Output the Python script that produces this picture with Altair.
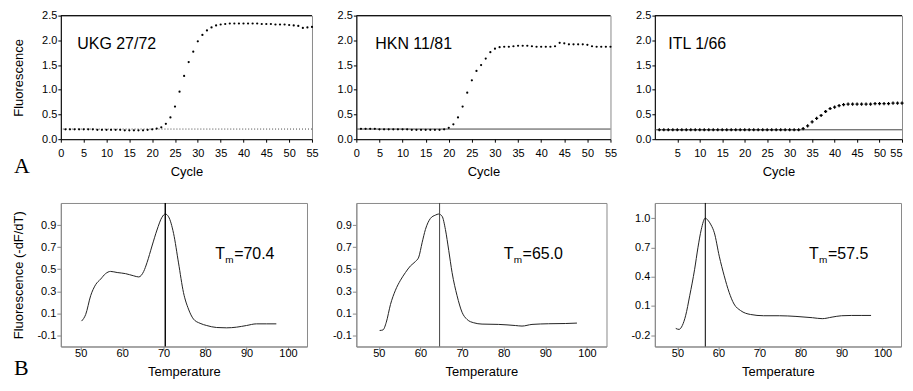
import altair as alt
import pandas as pd

FONT = "Liberation Sans"
SERIF = "Liberation Serif"

# ---------------- amplification data (top row) ----------------
cycles = list(range(1, 56))
ukg_fluor = [0.20, 0.20, 0.20, 0.20, 0.20, 0.20, 0.20, 0.19, 0.19, 0.19,
             0.19, 0.19, 0.19, 0.18, 0.18, 0.18, 0.18, 0.18, 0.19, 0.20,
             0.215, 0.24, 0.31, 0.44, 0.66, 0.96, 1.28, 1.56, 1.77, 1.98,
             2.11, 2.20, 2.26, 2.30, 2.32, 2.33, 2.34, 2.34, 2.34, 2.34,
             2.34, 2.34, 2.34, 2.33, 2.33, 2.33, 2.32, 2.32, 2.32, 2.31,
             2.30, 2.29, 2.25, 2.26, 2.27]
hkn_fluor = [0.21, 0.21, 0.21, 0.21, 0.20, 0.20, 0.20, 0.20, 0.20, 0.20,
             0.20, 0.19, 0.19, 0.19, 0.19, 0.19, 0.19, 0.19, 0.20, 0.23,
             0.30, 0.44, 0.66, 0.94, 1.19, 1.38, 1.50, 1.63, 1.76, 1.83,
             1.86, 1.87, 1.87, 1.88, 1.89, 1.89, 1.89, 1.88, 1.87, 1.87,
             1.87, 1.87, 1.88, 1.95, 1.94, 1.92, 1.92, 1.92, 1.92, 1.91,
             1.88, 1.87, 1.87, 1.87, 1.87]
itl_fluor = [0.19] * 32 + [0.215, 0.27, 0.35, 0.42, 0.48, 0.56, 0.62, 0.65,
                           0.68, 0.70, 0.71, 0.71, 0.71, 0.71, 0.71, 0.71,
                           0.72, 0.72, 0.72, 0.72, 0.73, 0.73, 0.73]
amp_names = ["UKG 27/72", "HKN 11/81", "ITL 1/66"]
amp_thresholds = [0.205, 0.205, 0.19]
amp_label_x = [3.6, 4.1, 3.0]
amp_label_y = [1.83, 1.83, 1.83]
amp_xticks_full = [0, 5, 10, 15, 20, 25, 30, 35, 40, 45, 50, 55]
amp_xticks_nozero = [5, 10, 15, 20, 25, 30, 35, 40, 45, 50, 55]
amp_yticks = [0.0, 0.5, 1.0, 1.5, 2.0, 2.5]

# ---------------- melting data (bottom row) ----------------
ukg_temp = [50.2, 51.2, 52.4, 53.6, 54.8, 56.0, 57.2, 58.8, 60.8, 62.8, 64.0,
            65.2, 66.0, 67.2, 68.4, 69.6, 70.4, 71.2, 72.4, 73.6, 74.8, 76.0,
            77.2, 78.8, 80.4, 82.8, 85.2, 87.6, 90.0, 92.4, 94.8, 97.2]
ukg_deriv = [0.03, 0.09, 0.26, 0.36, 0.41, 0.46, 0.48, 0.47, 0.46, 0.44, 0.43,
             0.48, 0.56, 0.71, 0.855, 0.97, 1.0, 0.975, 0.825, 0.557, 0.288,
             0.139, 0.049, 0.01, -0.01, -0.028, -0.031, -0.025, -0.01, 0.005,
             0.005, 0.005]
hkn_temp = [50.2, 51.0, 51.8, 52.8, 54.0, 55.2, 56.4, 57.6, 58.8, 59.6, 60.4,
            61.2, 62.4, 63.6, 64.4, 65.2, 66.0, 66.8, 67.6, 68.8, 70.0, 71.2,
            72.8, 74.8, 78.8, 82.8, 84.4, 86.8, 90.8, 94.8, 97.6]
hkn_deriv = [-0.055, -0.05, 0.02, 0.18, 0.31, 0.40, 0.47, 0.53, 0.57, 0.61,
             0.74, 0.86, 0.96, 0.99, 1.0, 0.98, 0.86, 0.67, 0.47, 0.26, 0.11,
             0.045, 0.015, 0.003, 0.0, -0.01, -0.015, 0.0, 0.006, 0.008, 0.012]
itl_temp = [49.6, 50.4, 51.2, 52.0, 53.0, 54.2, 55.0, 55.8, 56.8, 57.4, 58.2,
            59.0, 60.2, 61.4, 62.6, 63.8, 65.4, 67.8, 71.0, 74.9, 78.9, 82.9,
            85.3, 87.7, 90.0, 92.4, 94.8, 97.2]
itl_deriv = [-0.13, -0.14, -0.10, 0.0, 0.205, 0.476, 0.696, 0.88, 1.0, 0.98,
             0.93, 0.85, 0.61, 0.41, 0.24, 0.12, 0.053, 0.013, 0.0, 0.0, -0.007,
             -0.02, -0.03, -0.014, 0.0, 0.003, 0.003, 0.003]
tm_line_pos = [70.4, 64.6, 56.8]
tm_texts = ["=70.4", "=65.0", "=57.5"]
tm_text_x = [82.45, 80.0, 82.1]
tm_text_y = [0.589, 0.589, 0.578]
melt_xdomains = [[45.2, 104.6], [44.6, 104.7], [44.5, 104.5]]
melt_ydomains = [[-0.2, 1.1], [-0.2, 1.1], [-0.315, 1.155]]
melt_yticks = [[-0.1, 0.1, 0.3, 0.5, 0.7, 0.9], [-0.1, 0.1, 0.3, 0.5, 0.7, 0.9],
               [-0.2, 0.1, 0.4, 0.7, 1.0]]
melt_xticks = [50, 60, 70, 80, 90, 100]

GRAY = "#8a8a8a"
LABEL_EXPR = "datum.value < 0 ? '-' + format(-datum.value, '.1f') : format(datum.value, '.1f')"


def amp_panel(vals, idx, width, ytitle, xticks, dot_shape, dot_size, dash, letter, flush):
    df = pd.DataFrame({"Cycle": cycles, "F": vals})
    xenc = alt.X("Cycle:Q", scale=alt.Scale(domain=[0, 55], nice=False, zero=False),
                 axis=alt.Axis(values=xticks, tickCount=60, title="Cycle", domainColor="black",
                               tickColor="black", tickSize=3, labelPadding=5,
                               titlePadding=7, labelFlush=flush, labelOverlap=False))
    yenc = alt.Y("F:Q", scale=alt.Scale(domain=[0, 2.5], nice=False),
                 axis=alt.Axis(values=amp_yticks, tickCount=60, format=".1f", title=ytitle,
                               domainColor="black", tickColor="black", tickSize=3,
                               labelPadding=1, titlePadding=16, labelOverlap=False))
    pts = alt.Chart(df).mark_point(filled=True, shape=dot_shape, size=dot_size,
                                   color="black", opacity=1).encode(x=xenc, y=yenc)
    thr_df = pd.DataFrame({"F": [amp_thresholds[idx]]})
    thr_kw = dict(color="#444", strokeWidth=1)
    if dash:
        thr_kw["strokeDash"] = [1, 2]
    thr = alt.Chart(thr_df).mark_rule(**thr_kw).encode(y="F:Q")
    top_df = pd.DataFrame({"F": [2.5]})
    top = alt.Chart(top_df).mark_rule(color="black", strokeWidth=1).encode(y="F:Q")
    lab_df = pd.DataFrame({"Cycle": [amp_label_x[idx]], "F": [amp_label_y[idx]],
                           "t": [amp_names[idx]]})
    lab = alt.Chart(lab_df).mark_text(align="left", baseline="alphabetic", fontSize=16,
                                      font=FONT, color="black").encode(
        x="Cycle:Q", y="F:Q", text="t:N")
    layers = [thr, top, pts, lab]
    if letter:
        let_df = pd.DataFrame({"t": [letter]})
        let = alt.Chart(let_df).mark_text(align="left", baseline="alphabetic", fontSize=22,
                                          font=SERIF, color="black").encode(
            x=alt.value(-47), y=alt.value(158), text="t:N")
        layers.append(let)
    return alt.layer(*layers).properties(width=width, height=124)


def melt_panel(temps, vals, idx, width, ytitle, letter):
    df = pd.DataFrame({"T": temps, "D": vals})
    xenc = alt.X("T:Q", scale=alt.Scale(domain=melt_xdomains[idx], nice=False, zero=False),
                 axis=alt.Axis(values=melt_xticks, tickCount=60, title="Temperature",
                               domainColor=GRAY, tickColor=GRAY, tickSize=4, labelPadding=-3,
                               titlePadding=7, labelFlush=False, labelOverlap=False))
    yenc = alt.Y("D:Q", scale=alt.Scale(domain=melt_ydomains[idx], nice=False, zero=False),
                 axis=alt.Axis(values=melt_yticks[idx], tickCount=60, labelExpr=LABEL_EXPR,
                               title=ytitle, domainColor=GRAY, tickColor=GRAY, tickSize=4,
                               labelPadding=1, titlePadding=11, labelOverlap=False))
    line = alt.Chart(df).mark_line(interpolate="monotone", color="#222",
                                   strokeWidth=1).encode(x=xenc, y=yenc)
    vl_df = pd.DataFrame({"T": [tm_line_pos[idx]]})
    vline = alt.Chart(vl_df).mark_rule(color="black" if idx != 1 else "#444",
                                       strokeWidth=1.4 if idx == 0 else 1).encode(x="T:Q")
    tdf = pd.DataFrame({"T": [tm_text_x[idx]], "D": [tm_text_y[idx]],
                        "a": ["T"], "b": ["m"], "c": [tm_texts[idx]]})
    base = alt.Chart(tdf)
    t1 = base.mark_text(align="left", baseline="alphabetic", fontSize=16, font=FONT,
                        color="black").encode(x="T:Q", y="D:Q", text="a:N")
    t2 = base.mark_text(align="left", baseline="alphabetic", fontSize=10, font=FONT,
                        color="black", dx=10, dy=4).encode(x="T:Q", y="D:Q", text="b:N")
    t3 = base.mark_text(align="left", baseline="alphabetic", fontSize=16, font=FONT,
                        color="black", dx=19).encode(x="T:Q", y="D:Q", text="c:N")
    layers = [line, vline, t1, t2, t3]
    if letter:
        let_df = pd.DataFrame({"t": [letter]})
        let = alt.Chart(let_df).mark_text(align="left", baseline="alphabetic", fontSize=22,
                                          font=SERIF, color="black").encode(
            x=alt.value(-47), y=alt.value(173), text="t:N")
        layers.append(let)
    return alt.layer(*layers).properties(width=width, height=144)


panels = [
    amp_panel(ukg_fluor, 0, 252, "Fluorescence", amp_xticks_full, "circle", 5, True, "A", False),
    amp_panel(hkn_fluor, 1, 255, None, amp_xticks_full, "circle", 5, False, None, False),
    amp_panel(itl_fluor, 2, 248, None, amp_xticks_nozero, "cross", 10, False, None, True),
    melt_panel(ukg_temp, ukg_deriv, 0, 247, "Fluorescence (-dF/dT)", "B"),
    melt_panel(hkn_temp, hkn_deriv, 1, 251, None, None),
    melt_panel(itl_temp, itl_deriv, 2, 247, None, None),
]

chart = alt.concat(
    *panels, columns=3, bounds="flush", align="each",
    spacing=alt.RowColnumber(row=64, column=44.5)
).properties(
    padding={"left": 4, "top": 0, "right": 0, "bottom": 0}
).configure_view(
    stroke=GRAY, strokeWidth=1
).configure_axis(
    grid=False, labelFont=FONT, titleFont=FONT, labelFontSize=11, titleFontSize=13,
    labelColor="black", titleColor="black", titleFontWeight="normal"
)

chart.save("out.html", embed_options={"renderer": "svg", "actions": False})
